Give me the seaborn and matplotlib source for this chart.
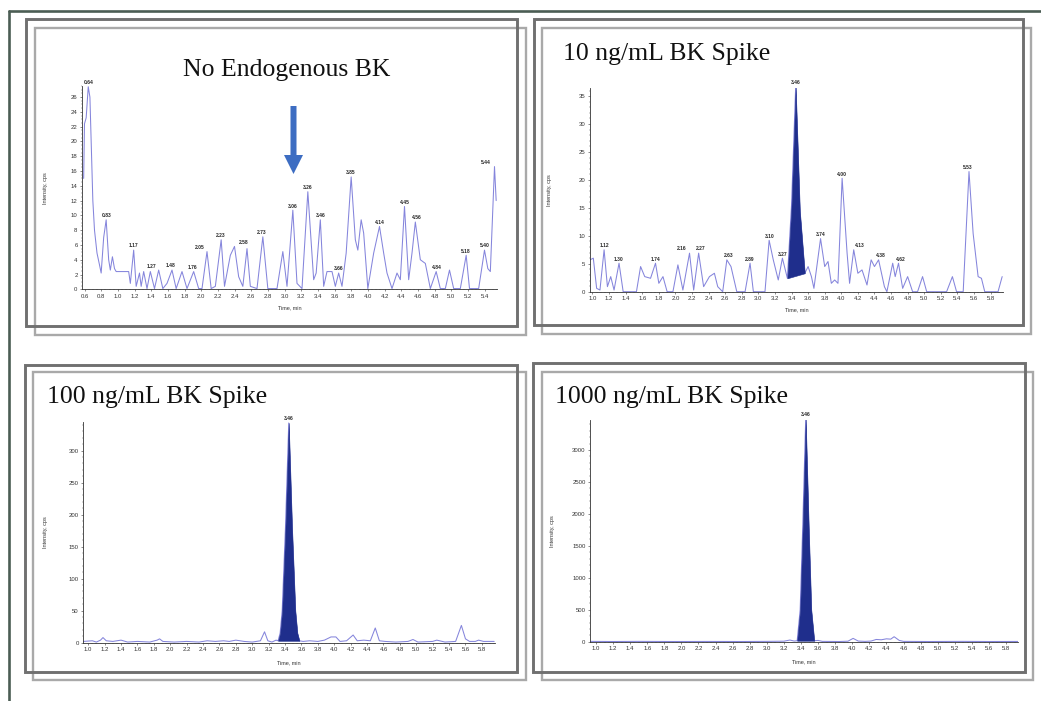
import numpy as np
import matplotlib
matplotlib.use("Agg")
import matplotlib.pyplot as plt
import matplotlib.patches as mpatches
from matplotlib.transforms import Affine2D
from matplotlib.ticker import MultipleLocator
import seaborn as sns

sns.set_theme(style="white")
plt.rcParams['font.family'] = ['Liberation Sans', 'DejaVu Sans']

W, H = 1041, 701

# ---- data: time (min), intensity (cps) ----
blank_time = [0.59, 0.60, 0.62, 0.645, 0.665, 0.70, 0.72, 0.75, 0.78, 0.80, 0.83, 0.86, 0.89, 0.91,
              0.935, 0.96, 0.98, 1.13, 1.15, 1.19, 1.22, 1.26, 1.28, 1.31, 1.35, 1.39, 1.44, 1.49,
              1.54, 1.59, 1.65, 1.70, 1.77, 1.83, 1.91, 1.97, 2.01, 2.07, 2.12, 2.17, 2.24, 2.28,
              2.35, 2.40, 2.45, 2.50, 2.55, 2.59, 2.67, 2.74, 2.80, 2.91, 2.98, 3.03, 3.10, 3.15,
              3.21, 3.28, 3.35, 3.38, 3.43, 3.47, 3.51, 3.57, 3.61, 3.65, 3.69, 3.74, 3.80, 3.85,
              3.88, 3.92, 3.95, 4.00, 4.07, 4.14, 4.19, 4.23, 4.29, 4.35, 4.39, 4.44, 4.49, 4.53,
              4.57, 4.63, 4.69, 4.75, 4.82, 4.87, 4.93, 4.98, 5.03, 5.11, 5.18, 5.22, 5.33, 5.40,
              5.44, 5.47, 5.52, 5.54]
blank_int = [15.0, 22.4, 23.2, 27.4, 26.0, 12.0, 8.0, 4.9, 3.3, 2.2, 7.0, 9.4, 4.0, 2.6,
             4.4, 2.8, 2.4, 2.4, 0.8, 5.3, 0.4, 2.2, 0.4, 2.4, 0.1, 2.4, 0.1, 2.6,
             0.1, 0.8, 2.6, 0.1, 2.4, 0.1, 2.4, 0.1, 0.1, 5.1, 0.1, 0.4, 6.7, 0.4,
             4.6, 5.8, 1.7, 0.4, 5.5, 0.4, 0.1, 7.1, 0.1, 0.1, 5.1, 0.4, 10.7, 0.8,
             0.1, 13.2, 1.3, 2.2, 9.4, 0.4, 2.4, 2.4, 0.4, 2.2, 0.4, 4.9, 15.2, 6.7,
             5.3, 9.4, 7.6, 0.1, 4.9, 8.5, 4.9, 2.2, 0.1, 2.2, 1.3, 11.2, 1.3, 4.9,
             9.1, 4.0, 3.5, 0.1, 2.4, 0.1, 0.1, 2.6, 0.1, 0.1, 4.6, 0.1, 0.1, 5.3,
             2.8, 2.4, 16.6, 12.0]
blank_lbl_time = [0.65, 0.86, 1.19, 1.40, 1.63, 1.90, 1.98, 2.24, 2.51, 2.73, 3.10, 3.28, 3.43,
                  3.65, 3.80, 4.14, 4.44, 4.59, 4.83, 5.18, 5.40, 5.42]
blank_lbl_int = [27.4, 9.4, 5.3, 2.5, 2.6, 2.4, 5.1, 6.7, 5.8, 7.1, 10.7, 13.2, 9.4,
                 2.2, 15.2, 8.5, 11.2, 9.1, 2.4, 4.6, 5.3, 16.6]
blank_lbl_text = ['0.64', '0.83', '1.17', '1.27', '1.48', '1.76', '2.05', '2.23', '2.58', '2.73',
                  '3.06', '3.26', '3.46', '3.66', '3.85', '4.14', '4.45', '4.56', '4.84', '5.18',
                  '5.40', '5.44']

s10_time = [0.97, 1.01, 1.05, 1.09, 1.14, 1.18, 1.22, 1.26, 1.32, 1.37, 1.53, 1.58, 1.63, 1.70,
            1.76, 1.80, 1.85, 1.90, 1.97, 2.03, 2.09, 2.17, 2.22, 2.28, 2.34, 2.41, 2.47, 2.51,
            2.57, 2.62, 2.67, 2.74, 2.84, 2.90, 2.94, 3.08, 3.13, 3.18, 3.24, 3.29, 3.35, 3.40,
            3.45, 3.50, 3.56, 3.60, 3.64, 3.67, 3.75, 3.80, 3.84, 3.88, 3.92, 3.96, 4.01, 4.07,
            4.10, 4.15, 4.20, 4.25, 4.31, 4.36, 4.40, 4.45, 4.52, 4.55, 4.62, 4.65, 4.69, 4.74,
            4.80, 4.86, 4.92, 4.98, 5.03, 5.27, 5.34, 5.39, 5.47, 5.54, 5.59, 5.65, 5.69, 5.73,
            5.89, 5.94]
s10_int = [5.7, 6.0, 0.6, 0.3, 7.5, 0.9, 2.7, 0.3, 5.1, 0.0, 0.0, 4.5, 2.7, 2.4,
           5.1, 1.5, 2.7, 0.0, 0.0, 4.8, 0.3, 6.9, 0.3, 6.9, 0.9, 2.7, 3.3, 0.9,
           0.0, 5.7, 4.5, 0.0, 0.0, 5.1, 0.0, 0.0, 9.2, 5.7, 2.1, 6.0, 2.4, 15.5,
           36.7, 14.5, 3.3, 4.5, 2.7, 0.6, 9.5, 4.5, 5.4, 1.5, 2.1, 1.5, 20.3, 6.9,
           1.5, 7.5, 3.3, 3.9, 1.2, 5.7, 4.5, 5.7, 0.9, 0.0, 5.1, 2.7, 5.1, 0.6,
           2.7, 0.0, 0.0, 2.7, 0.0, 0.0, 2.7, 0.0, 0.0, 21.5, 10.4, 2.7, 2.4, 0.0,
           0.0, 2.7]
s10_lbl_time = [1.14, 1.32, 1.76, 2.08, 2.30, 2.64, 2.90, 3.14, 3.29, 3.45, 3.75, 4.01, 4.22,
                4.48, 4.72, 5.53]
s10_lbl_int = [7.5, 5.1, 5.1, 6.9, 6.9, 5.7, 5.1, 9.2, 6.0, 36.7, 9.5, 20.3, 7.5, 5.7, 5.1, 21.5]
s10_lbl_text = ['1.12', '1.30', '1.74', '2.16', '2.27', '2.63', '2.89', '3.10', '3.27', '3.46',
                '3.74', '4.00', '4.13', '4.38', '4.62', '5.53']

s100_time = [0.94, 1.05, 1.10, 1.15, 1.18, 1.22, 1.30, 1.40, 1.48, 1.60, 1.75, 1.84, 1.87, 1.91,
             2.05, 2.20, 2.35, 2.45, 2.55, 2.65, 2.72, 2.80, 2.90, 3.00, 3.10, 3.15, 3.19, 3.24,
             3.29, 3.315, 3.34, 3.365, 3.405, 3.445, 3.485, 3.525, 3.55, 3.575, 3.62, 3.70, 3.80,
             3.88, 3.96, 4.02, 4.07, 4.15, 4.23, 4.28, 4.36, 4.44, 4.50, 4.55, 4.62, 4.75, 4.90,
             4.96, 5.02, 5.20, 5.25, 5.35, 5.48, 5.55, 5.60, 5.65, 5.72, 5.76, 5.82, 5.95]
s100_int = [2, 3, 1, 4, 8, 3, 2, 4, 1, 2, 1, 4, 6, 2,
            1, 2, 1, 3, 2, 3, 2, 4, 2, 1, 3, 17, 3, 1,
            4, 3, 15, 50, 180, 343, 180, 50, 15, 3, 2, 3, 2,
            4, 9, 9, 2, 3, 12, 3, 4, 3, 23, 3, 2, 1, 2,
            5, 1, 2, 4, 1, 2, 27, 6, 2, 2, 4, 2, 2]
s100_lbl_time = [3.445]
s100_lbl_int = [343]
s100_lbl_text = ['3.46']

s1000_time = [0.93, 1.20, 1.50, 1.90, 2.30, 2.70, 3.00, 3.20, 3.27, 3.32, 3.355, 3.39, 3.42, 3.455,
              3.49, 3.52, 3.555, 3.60, 3.65, 3.85, 3.95, 4.01, 4.07, 4.15, 4.22, 4.28, 4.34, 4.40,
              4.45, 4.49, 4.55, 4.60, 4.90, 5.30, 5.60, 5.94]
s1000_int = [5, 3, 5, 3, 4, 3, 5, 8, 26, 10, 15, 500, 1800, 3490,
             1800, 500, 15, 20, 5, 3, 8, 52, 10, 5, 10, 35, 30, 45,
             40, 78, 20, 5, 3, 5, 3, 4]
s1000_lbl_time = [3.455]
s1000_lbl_int = [3490]
s1000_lbl_text = ['3.46']

titles = ['No Endogenous BK', '10 ng/mL BK Spike', '100 ng/mL BK Spike', '1000 ng/mL BK Spike']

# colours
TRACE = '#8585dc'
FILL = '#1f2e8c'
FRAME_DARK = '#707070'
FRAME_LIGHT = '#a9a9a9'
BORDER = '#4b5d54'
ARROW = '#3d6dc2'

fig = plt.figure(figsize=(W / 100, H / 100), dpi=100)
fig.patch.set_facecolor('white')
pix = Affine2D().scale(1 / W, -1 / H).translate(0, 1) + fig.transFigure


def add_axes_px(x0, y0, x1, y1):
    return fig.add_axes([x0 / W, 1 - y1 / H, (x1 - x0) / W, (y1 - y0) / H])


# outer border (top + left)
fig.add_artist(plt.Line2D([8.7, W], [10.5, 10.5], transform=pix, color=BORDER, lw=1.9))
fig.add_artist(plt.Line2D([8.7, 8.7], [10.5, H], transform=pix, color=BORDER, lw=1.9))

# double frames around each panel
frames = [((26, 19, 517, 326), (35, 28, 526, 335)),
          ((534, 19, 1023, 325), (542, 28, 1031, 334)),
          ((25, 365, 517, 672), (33, 372, 526, 680)),
          ((533, 363, 1025, 672), (542, 372, 1033, 680))]
for dark, light in frames:
    for (x0, y0, x1, y1), col, lw in [(light, FRAME_LIGHT, 1.7), (dark, FRAME_DARK, 2.1)]:
        fig.add_artist(mpatches.Rectangle((x0, y0), x1 - x0, y1 - y0, transform=pix,
                                          fill=False, edgecolor=col, lw=lw))

panels = [
    dict(box=(82, 86, 497, 289.3), xlim=(0.57, 5.55), ylim=(0, 27.5), xt=(0.6, 5.4), ystep=2, ymax=26,
         ymin_step=0.5, t=blank_time, v=blank_int, lt=blank_lbl_time, lv=blank_lbl_int,
         ltxt=blank_lbl_text, win=None, ylab_x=-0.082),
    dict(box=(590, 88.3, 1003, 291.7), xlim=(0.97, 5.95), ylim=(0, 36.4), xt=(1.0, 5.8), ystep=5, ymax=35,
         ymin_step=1, t=s10_time, v=s10_int, lt=s10_lbl_time, lv=s10_lbl_int,
         ltxt=s10_lbl_text, win=(3.35, 3.56), ylab_x=-0.092),
    dict(box=(83.3, 421.7, 495, 642.7), xlim=(0.94, 5.96), ylim=(0, 345), xt=(1.0, 5.8), ystep=50, ymax=300,
         ymin_step=10, t=s100_time, v=s100_int, lt=s100_lbl_time, lv=s100_lbl_int,
         ltxt=s100_lbl_text, win=(3.315, 3.575), ylab_x=-0.086),
    dict(box=(590, 420, 1018, 641.7), xlim=(0.93, 5.94), ylim=(0, 3470), xt=(1.0, 5.8), ystep=500, ymax=3000,
         ymin_step=100, t=s1000_time, v=s1000_int, lt=s1000_lbl_time, lv=s1000_lbl_int,
         ltxt=s1000_lbl_text, win=(3.355, 3.555), ylab_x=-0.082),
]

for p in panels:
    ax = add_axes_px(*p['box'])
    ax.set_facecolor('none')
    sns.lineplot(x=p['t'], y=p['v'], ax=ax, color=TRACE, linewidth=0.75,
                 estimator=None, sort=False, legend=False, zorder=2)
    if p['win'] is not None:
        t = np.array(p['t'], dtype=float)
        v = np.array(p['v'], dtype=float)
        m = (t >= p['win'][0]) & (t <= p['win'][1])
        ts, vs = t[m], v[m]
        base = np.interp(ts, [ts[0], ts[-1]], [vs[0], vs[-1]])
        ax.fill_between(ts, base, vs, color=FILL, lw=0.4, edgecolor=FILL, zorder=3)
    for lt, lv, txt in zip(p['lt'], p['lv'], p['ltxt']):
        ax.annotate(txt, (lt, lv), xytext=(0, 1.2), textcoords='offset points', ha='center',
                    va='bottom', fontsize=3.6, fontweight='bold', color='#2a2a2a',
                    annotation_clip=False)

    ax.set_xlim(*p['xlim'])
    ax.set_ylim(*p['ylim'])
    xt = np.round(np.arange(p['xt'][0], p['xt'][1] + 0.01, 0.2), 1)
    ax.set_xticks(xt)
    ax.set_xticklabels([f'{x:.1f}' for x in xt])
    yt = np.arange(0, p['ymax'] + 0.1, p['ystep'])
    ax.set_yticks(yt)
    ax.set_yticklabels([f'{int(y)}' for y in yt])
    ax.xaxis.set_minor_locator(MultipleLocator(0.05))
    ax.yaxis.set_minor_locator(MultipleLocator(p['ymin_step']))
    ax.tick_params(axis='both', which='major', length=1.6, width=0.4, pad=1.6,
                   labelsize=4.3, colors='#333333', direction='out', bottom=True, left=True)
    ax.tick_params(axis='both', which='minor', length=0.8, width=0.3, colors='#555555',
                   direction='out', bottom=True, left=True)
    for side in ['top', 'right']:
        ax.spines[side].set_visible(False)
    for side in ['left', 'bottom']:
        ax.spines[side].set_color('#333333')
        ax.spines[side].set_linewidth(0.6)
    ax.set_xlabel('Time, min', fontsize=4, color='#333333')
    ax.set_ylabel('Intensity, cps', fontsize=4, color='#333333')
    ax.xaxis.set_label_coords(0.5, -0.078)
    ax.yaxis.set_label_coords(p['ylab_x'], 0.5)
    ax.grid(False)

# panel titles
serif = ['Liberation Serif', 'DejaVu Serif']
fig.text(287, 76, titles[0], transform=pix, ha='center', va='baseline', fontsize=18.5,
         family=serif, color='#111111')
fig.text(563, 60, titles[1], transform=pix, ha='left', va='baseline', fontsize=18.5,
         family=serif, color='#111111')
fig.text(47, 403, titles[2], transform=pix, ha='left', va='baseline', fontsize=18.5,
         family=serif, color='#111111')
fig.text(555, 403, titles[3], transform=pix, ha='left', va='baseline', fontsize=18.5,
         family=serif, color='#111111')

# arrow marking where BK would elute
fig.add_artist(mpatches.FancyArrow(293.5, 106, 0, 68, width=6, head_width=19, head_length=19,
                                   length_includes_head=True, transform=pix,
                                   color=ARROW, lw=0))

fig.savefig('out.png', dpi=100, facecolor='white')
